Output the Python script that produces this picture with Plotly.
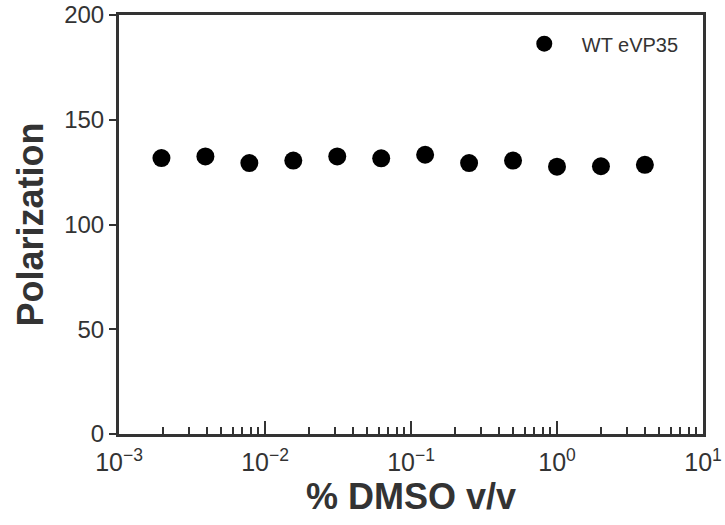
import plotly.graph_objects as go

dmso = [0.001953125, 0.00390625, 0.0078125, 0.015625, 0.03125, 0.0625, 0.125, 0.25, 0.5, 1, 2, 4]
polarization = [131.7, 132.5, 129.3, 130.5, 132.5, 131.6, 133.3, 129.3, 130.5, 127.6, 127.8, 128.5]
series_name = "WT eVP35"
x_tickvals = [0.001, 0.01, 0.1, 1, 10]
x_ticktext = ["10<sup>\u22123</sup>", "10<sup>\u22122</sup>", "10<sup>\u22121</sup>", "10<sup>0</sup>", "10<sup>1</sup>"]
minor_vals = [m * 10 ** e for e in range(-3, 1) for m in range(2, 10)]

font = "Liberation Sans, Arial, sans-serif"
axcol = "#333333"

fig = go.Figure()
fig.add_trace(go.Scatter(
    x=dmso, y=polarization, mode="markers", name=series_name,
    marker=dict(color="black", size=18, symbol="circle"),
))

fig.update_layout(
    width=725, height=525,
    margin=dict(l=119, r=22, t=15, b=91),
    plot_bgcolor="white", paper_bgcolor="white",
    font=dict(family=font, color=axcol, size=20),
    showlegend=True,
    legend=dict(x=0.664, y=0.978, xanchor="left", yanchor="top", itemwidth=65,
                bgcolor="rgba(0,0,0,0)", font=dict(size=20, color=axcol)),
    xaxis=dict(
        type="log", range=[-3, 1], tickmode="array",
        tickvals=x_tickvals, ticktext=x_ticktext,
        showgrid=False, zeroline=False, automargin=False,
        showline=True, linewidth=3, linecolor=axcol, mirror=True,
        ticks="inside", ticklen=13, tickwidth=1.5, tickcolor=axcol,
        ticklabelstandoff=4,
        tickfont=dict(size=25, color=axcol),
        minor=dict(tickvals=minor_vals, ticks="inside", ticklen=7, tickwidth=1.5, tickcolor=axcol, showgrid=False),
        title=dict(text="<b>% DMSO v/v</b>", font=dict(size=36, color=axcol), standoff=0),
    ),
    yaxis=dict(
        range=[0, 200], dtick=50, automargin=False,
        showgrid=False, zeroline=False,
        showline=True, linewidth=3, linecolor=axcol, mirror=True,
        ticks="outside", ticklen=7, tickwidth=1.5, tickcolor=axcol,
        tickfont=dict(size=24, color=axcol),
        title=dict(text="<b>Polarization</b>", font=dict(size=36, color=axcol), standoff=10),
    ),
)

fig.write_html("out.html")
